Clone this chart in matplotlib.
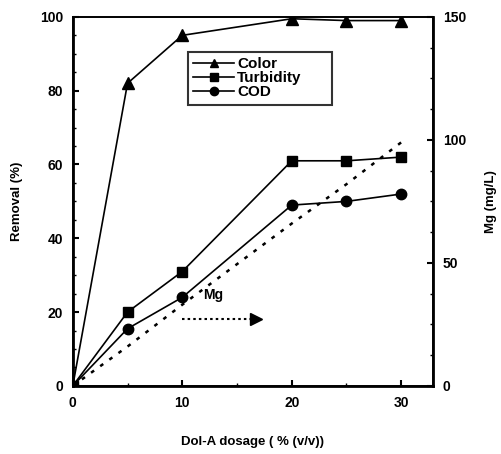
#!/usr/bin/env python3

import matplotlib
matplotlib.use("Agg")
import matplotlib.pyplot as plt
from matplotlib.ticker import MultipleLocator

# Dol-A dosage (% v/v)
dosage = [0, 5, 10, 20, 25, 30]
# removal (%)
color_rm = [0, 82, 95, 99.5, 99, 99]
turbidity_rm = [0, 20, 31, 61, 61, 62]
cod_rm = [0, 15.5, 24, 49, 50, 52]
# residual Mg (mg/L), right axis
mg = [0, 16, 33, 66, 82, 99]


def main():
    plt.rcParams['font.family'] = ['Liberation Sans', 'DejaVu Sans']
    plt.rcParams['font.weight'] = 'bold'
    plt.rcParams['axes.labelweight'] = 'bold'

    fig = plt.figure(figsize=(5.02, 4.54), dpi=100)
    ax = fig.add_axes([0.145, 0.150, 0.7175, 0.8128])
    ax2 = ax.twinx()

    ax.plot(dosage, color_rm, color='k', lw=1.2, marker='^', ms=8,
            label='Color')
    ax.plot(dosage, turbidity_rm, color='k', lw=1.2, marker='s', ms=7.5,
            label='Turbidity')
    ax.plot(dosage, cod_rm, color='k', lw=1.2, marker='o', ms=7.5,
            label='COD')
    ax2.plot(dosage, mg, color='k', lw=1.8, ls=(0, (1.5, 3)))

    ax.set_xlim(0, 32.9)
    ax.set_ylim(0, 100)
    ax2.set_ylim(0, 150)
    ax.set_xticks([0, 10, 20, 30])
    ax.set_yticks([0, 20, 40, 60, 80, 100])
    ax2.set_yticks([0, 50, 100, 150])
    ax.xaxis.set_minor_locator(MultipleLocator(5))
    ax.yaxis.set_minor_locator(MultipleLocator(5))
    ax2.yaxis.set_minor_locator(MultipleLocator(12.5))

    for a in (ax, ax2):
        a.tick_params(which='major', direction='in', length=4, width=1.5,
                      labelsize=10, pad=7)
        a.tick_params(which='minor', direction='in', length=2, width=1)
        for s in a.spines.values():
            s.set_linewidth(1.2)
    ax.spines['left'].set_linewidth(2)
    ax.spines['bottom'].set_linewidth(2)
    ax2.spines['right'].set_linewidth(2)
    ax.tick_params(top=False, right=False)
    ax.tick_params(which='minor', top=False, right=False)

    ax.set_xlabel('Dol-A dosage ( % (v/v))', fontsize=9.5, labelpad=19)
    ax.set_ylabel('Removal (%)', fontsize=9.5, labelpad=12)
    ax2.set_ylabel('Mg (mg/L)', fontsize=9.5, labelpad=14)

    leg = ax.legend(loc='upper left', bbox_to_anchor=(0.319, 0.756, 0.4, 0.149),
                    mode='expand', fontsize=11,
                    frameon=True, fancybox=False, handlelength=2.7,
                    handletextpad=0.2, labelspacing=0.0, borderpad=0.35,
                    borderaxespad=0, markerscale=0.8)
    leg.get_frame().set_edgecolor('k')
    leg.get_frame().set_linewidth(1.5)

    ax.text(0.361, 0.247, 'Mg', transform=ax.transAxes, fontsize=10,
            ha='left', va='center')
    ax.plot([0.303, 0.50], [0.182, 0.182], transform=ax.transAxes,
            color='k', lw=1.5, ls=(0, (1.2, 1.5)))
    ax.plot([0.51], [0.182], transform=ax.transAxes, color='k',
            marker='>', ms=9, ls='none', clip_on=False)

    fig.savefig('out.png', dpi=100)


if __name__ == "__main__":
    main()
